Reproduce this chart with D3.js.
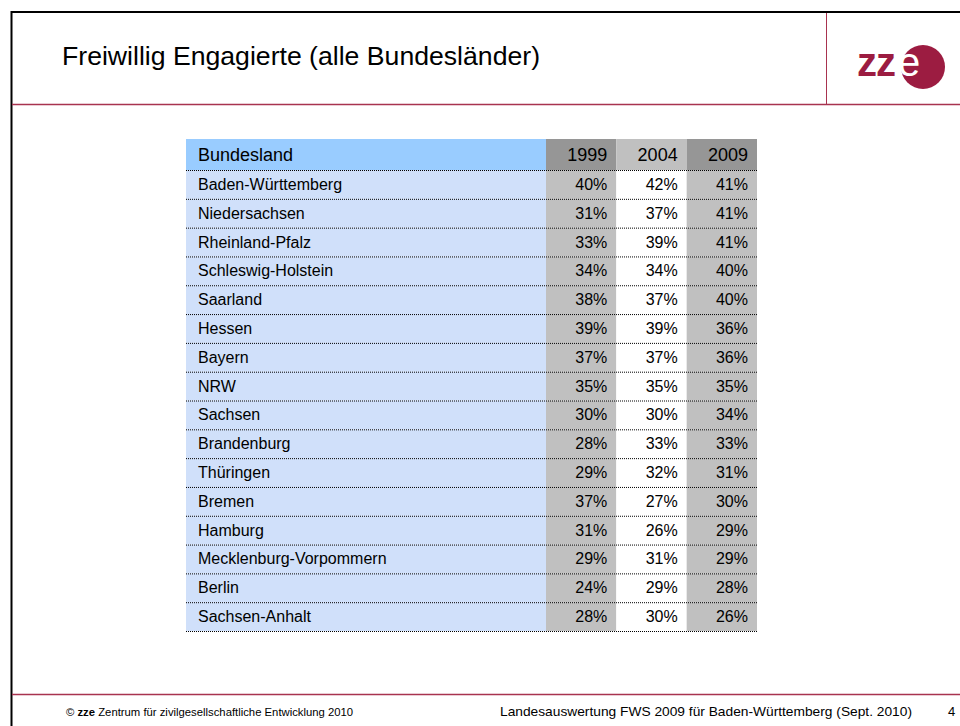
<!DOCTYPE html>
<html>
<head>
<meta charset="utf-8">
<script src="https://d3js.org/d3.v7.min.js"></script>
<style>
  body { margin: 0; background: #fff; }
  svg { display: block; font-family: "Liberation Sans", Arial, sans-serif; }
</style>
</head>
<body>
<div id="chart"></div>
<script>
// table data
const laender = ["Baden-Württemberg", "Niedersachsen", "Rheinland-Pfalz", "Schleswig-Holstein",
  "Saarland", "Hessen", "Bayern", "NRW", "Sachsen", "Brandenburg", "Thüringen", "Bremen",
  "Hamburg", "Mecklenburg-Vorpommern", "Berlin", "Sachsen-Anhalt"];
const years = ["1999", "2004", "2009"];
const v1999 = [40, 31, 33, 34, 38, 39, 37, 35, 30, 28, 29, 37, 31, 29, 24, 28];
const v2004 = [42, 37, 39, 34, 37, 39, 37, 35, 30, 33, 32, 27, 26, 31, 29, 30];
const v2009 = [41, 41, 41, 40, 40, 36, 36, 35, 34, 33, 31, 30, 29, 29, 28, 26];

const width = 960, height = 726;
const red = "#a8334f";

const svg = d3.select("#chart").append("svg")
  .attr("width", width)
  .attr("height", height);

// slide frame
svg.append("line").attr("x1", 11.5).attr("x2", 11.5).attr("y1", 11).attr("y2", height)
  .attr("stroke", "#000").attr("stroke-width", 2);
svg.append("line").attr("x1", 11).attr("x2", width).attr("y1", 12).attr("y2", 12)
  .attr("stroke", "#000").attr("stroke-width", 2);
svg.append("line").attr("x1", 12).attr("x2", width).attr("y1", 104.5).attr("y2", 104.5)
  .attr("stroke", red).attr("stroke-width", 1.5);
svg.append("line").attr("x1", 826.5).attr("x2", 826.5).attr("y1", 13).attr("y2", 104)
  .attr("stroke", red).attr("stroke-width", 1);
svg.append("line").attr("x1", 12).attr("x2", width).attr("y1", 694.5).attr("y2", 694.5)
  .attr("stroke", red).attr("stroke-width", 1.5);

// title
svg.append("text")
  .attr("x", 62).attr("y", 65)
  .attr("font-size", 25)
  .attr("textLength", 478)
  .attr("lengthAdjust", "spacingAndGlyphs")
  .attr("fill", "#000")
  .text("Freiwillig Engagierte (alle Bundesländer)");

// logo
const logoColor = "#9c1c41";
svg.append("circle").attr("cx", 923).attr("cy", 67).attr("r", 22).attr("fill", logoColor);
svg.append("text")
  .attr("x", 857).attr("y", 76)
  .attr("font-size", 40)
  .attr("font-weight", "bold")
  .attr("letter-spacing", -1)
  .attr("fill", logoColor)
  .text("zz");
svg.append("text")
  .attr("x", 898).attr("y", 76)
  .attr("font-size", 40)
  .attr("fill", "#fff")
  .text("e");

// table scales
const tableLeft = 186, nameRight = 546, tableRight = 757;
const headerTop = 139, rowsTop = 170, rowsBottom = 631;

const y = d3.scaleBand().domain(laender).range([rowsTop, rowsBottom]);
const xYear = d3.scaleBand().domain(years).range([nameRight, tableRight]);

const headerFill = { "1999": "#969696", "2004": "#c0c0c0", "2009": "#969696" };
const cellFill = { "1999": "#c0c0c0", "2004": "#ffffff", "2009": "#c0c0c0" };
const values = { "1999": v1999, "2004": v2004, "2009": v2009 };

// header row
svg.append("rect")
  .attr("x", tableLeft).attr("y", headerTop)
  .attr("width", nameRight - tableLeft).attr("height", rowsTop - headerTop)
  .attr("fill", "#99ccff");
svg.selectAll("rect.hyear")
  .data(years)
  .join("rect")
  .attr("class", "hyear")
  .attr("x", d => xYear(d)).attr("y", headerTop)
  .attr("width", xYear.bandwidth()).attr("height", rowsTop - headerTop)
  .attr("fill", d => headerFill[d]);
svg.append("text")
  .attr("x", tableLeft + 12).attr("y", headerTop + 22)
  .attr("font-size", 18)
  .text("Bundesland");
svg.selectAll("text.hyear")
  .data(years)
  .join("text")
  .attr("class", "hyear")
  .attr("x", d => xYear(d) + xYear.bandwidth() - 9)
  .attr("y", headerTop + 22)
  .attr("text-anchor", "end")
  .attr("font-size", 18)
  .text(d => d);

// body: name cells
svg.selectAll("rect.name")
  .data(laender)
  .join("rect")
  .attr("class", "name")
  .attr("x", tableLeft).attr("y", d => y(d))
  .attr("width", nameRight - tableLeft).attr("height", y.bandwidth())
  .attr("fill", "#d0e0fa");
svg.selectAll("text.name")
  .data(laender)
  .join("text")
  .attr("class", "name")
  .attr("x", tableLeft + 12)
  .attr("y", d => y(d) + y.bandwidth() / 2 + 5.5)
  .attr("font-size", 16)
  .text(d => d);

// body: value cells
years.forEach(yr => {
  const cells = laender.map((l, i) => ({ land: l, v: values[yr][i] }));
  svg.selectAll("rect.c" + yr)
    .data(cells)
    .join("rect")
    .attr("class", "c" + yr)
    .attr("x", xYear(yr)).attr("y", d => y(d.land))
    .attr("width", xYear.bandwidth()).attr("height", y.bandwidth())
    .attr("fill", cellFill[yr]);
  svg.selectAll("text.c" + yr)
    .data(cells)
    .join("text")
    .attr("class", "c" + yr)
    .attr("x", xYear(yr) + xYear.bandwidth() - 9)
    .attr("y", d => y(d.land) + y.bandwidth() / 2 + 5.5)
    .attr("text-anchor", "end")
    .attr("font-size", 16)
    .text(d => d.v + "%");
});

// dotted row separators
svg.selectAll("line.sep")
  .data(laender)
  .join("line")
  .attr("class", "sep")
  .attr("x1", tableLeft).attr("x2", tableRight)
  .attr("y1", d => y(d) + 0.5).attr("y2", d => y(d) + 0.5)
  .attr("stroke", "#000").attr("stroke-width", 1)
  .attr("stroke-dasharray", "1,1");
svg.append("line")
  .attr("x1", tableLeft).attr("x2", tableRight)
  .attr("y1", rowsBottom + 0.5).attr("y2", rowsBottom + 0.5)
  .attr("stroke", "#000").attr("stroke-width", 1)
  .attr("stroke-dasharray", "1,1");

// footer
const footer = svg.append("text")
  .attr("x", 66).attr("y", 716)
  .attr("font-size", 11.3);
footer.append("tspan").text("© ");
footer.append("tspan").attr("font-weight", "bold").text("zze");
footer.append("tspan").text(" Zentrum für zivilgesellschaftliche Entwicklung 2010");
svg.append("text")
  .attr("x", 500).attr("y", 716)
  .attr("font-size", 13)
  .attr("textLength", 412)
  .attr("lengthAdjust", "spacingAndGlyphs")
  .text("Landesauswertung FWS 2009 für Baden-Württemberg (Sept. 2010)");
svg.append("text")
  .attr("x", 948).attr("y", 716)
  .attr("font-size", 13)
  .text("4");
</script>
</body>
</html>
